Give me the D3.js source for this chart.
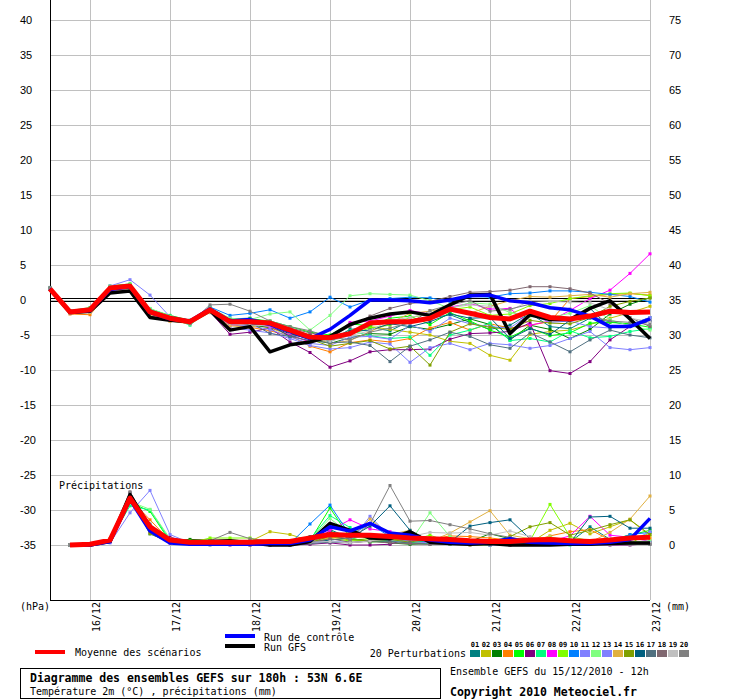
<!DOCTYPE html>
<html>
<head>
<meta charset="utf-8">
<script src="https://cdn.jsdelivr.net/npm/d3@7"></script>
<style>
  body { margin: 0; background: #fff; }
  svg { display: block; }
</style>
</head>
<body>
<div id="viz"></div>
<script>
// forecast steps, hours after 15/12/2010 12h
var steps = [0,6,12,18,24,30,36,42,48,54,60,66,72,78,84,90,96,102,108,114,120,126,132,138,144,150,156,162,168,174,180];
var rainSteps = [6,12,18,24,30,36,42,48,54,60,66,72,78,84,90,96,102,108,114,120,126,132,138,144,150,156,162,168,174,180];

var dayLabels = ["16/12","17/12","18/12","19/12","20/12","21/12","22/12","23/12"];
var tempTicks = [40,35,30,25,20,15,10,5,0,-5,-10,-15,-20,-25,-30,-35];
var rightTicks = [75,70,65,60,55,50,45,40,35,30,25,20,15,10,5,0];

var pertNames = ["01","02","03","04","05","06","07","08","09","10","11","12","13","14","15","16","17","18","19","20"];
var pertColors = ["#008080","#c0c000","#008000","#ff8000","#00ff00","#800080","#00ff80","#ff00ff","#80ff00","#0080ff",
                  "#8080ff","#80ff80","#8080ff","#e0b040","#80a000","#006080","#507080","#806870","#c0c0c0","#808080"];

// temperature 2m (°C)
var tempMean = [1.6,-1.7,-1.4,1.7,2.0,-1.7,-2.6,-3.1,-1.4,-3.1,-3.1,-3.3,-4.3,-5.3,-5.4,-4.8,-3.3,-3.1,-3.1,-2.6,-1.3,-1.9,-2.5,-2.7,-1.6,-2.5,-2.7,-2.3,-1.6,-1.8,-1.7];
var tempControl = [1.6,-1.7,-1.5,1.5,1.9,-1.8,-2.7,-3.0,-1.3,-3.0,-2.8,-3.5,-4.5,-5.5,-4.2,-2.2,0.0,0.0,-0.1,-0.4,0.0,0.6,0.7,-0.1,-0.4,-1.1,-1.4,-2.3,-3.8,-3.8,-2.7];
var tempGfs = [1.6,-1.8,-1.6,1.0,1.3,-2.5,-2.9,-3.1,-1.5,-4.3,-3.8,-7.4,-6.4,-6.0,-5.2,-3.5,-2.6,-2.0,-1.7,-2.2,-0.7,0.7,0.8,-4.8,-2.1,-2.8,-2.8,-1.2,-0.1,-2.7,-5.5];

var tempP01 = [1.7,-1.6,-1.3,1.9,2.1,-1.5,-2.4,-3.0,-1.2,-2.7,-2.6,-3.2,-4.5,-5.1,-5.8,-4.2,-3.9,-4.4,-3.0,-2.6,-2.1,-3.2,-4.2,-3.6,-1.9,-3.8,-4.1,-2.6,-3.1,-3.5,-2.5];
var tempP02 = [1.6,-1.8,-1.6,1.5,1.8,-1.9,-2.8,-3.2,-1.6,-3.4,-3.5,-4.0,-5.0,-6.0,-5.7,-4.6,-3.8,-4.2,-4.6,-5.0,-5.9,-6.2,-7.9,-8.6,-4.9,-4.5,-4.3,-3.5,-2.6,-1.8,-0.9];
var tempP03 = [1.6,-1.7,-1.5,1.6,1.9,-1.8,-2.7,-3.3,-1.5,-3.3,-3.6,-3.9,-4.8,-5.6,-6.2,-5.4,-4.8,-4.9,-3.8,-4.2,-3.5,-2.7,-3.5,-5.7,-3.6,-4.2,-5.5,-4.2,-2.0,-0.6,0.3];
var tempP04 = [1.5,-2.0,-2.1,1.2,1.7,-2.0,-3.0,-3.3,-1.7,-3.5,-3.9,-4.4,-5.1,-6.6,-7.4,-6.1,-5.7,-6.0,-5.5,-4.0,-3.2,-4.3,-3.4,-4.0,-3.6,-3.1,0.2,0.5,0.8,0.9,0.7];
var tempP05 = [1.7,-1.5,-1.1,2.0,2.3,-1.3,-2.2,-2.9,-1.1,-2.9,-2.7,-3.0,-3.8,-4.6,-5.0,-3.4,-3.7,-2.6,-2.3,-3.5,-1.8,-3.0,-4.3,-5.3,-4.0,-5.1,-4.7,-3.3,-3.2,-3.4,-3.9];
var tempP06 = [1.6,-1.6,-1.5,1.4,1.8,-1.9,-2.9,-3.3,-1.7,-4.9,-4.6,-4.0,-6.0,-7.5,-9.6,-8.7,-7.4,-7.1,-7.1,-7.0,-5.6,-4.8,-4.7,-4.5,-3.3,-10.1,-10.5,-8.8,-5.7,-3.8,-3.0];
var tempP07 = [1.6,-1.7,-1.3,1.8,2.2,-1.6,-2.5,-3.6,-1.3,-3.0,-3.3,-3.5,-4.2,-5.3,-5.9,-4.4,-5.1,-5.5,-5.3,-7.9,-5.0,-4.3,-3.3,-5.8,-5.5,-6.0,-4.4,-5.4,-5.2,-4.5,-4.1];
var tempP08 = [1.6,-1.8,-1.5,1.6,1.9,-1.7,-2.8,-3.3,-1.6,-3.6,-3.4,-3.8,-5.0,-6.0,-5.5,-3.2,-3.0,-2.3,-1.5,-2.0,-1.0,-0.5,-1.3,-1.2,-3.6,-3.0,-1.5,0.2,1.4,3.8,6.6];
var tempP09 = [1.6,-1.6,-1.2,1.9,2.1,-1.4,-2.4,-3.1,-1.3,-2.9,-3.0,-3.3,-4.1,-5.0,-5.6,-4.9,-4.0,-3.6,-2.5,-2.0,-1.4,-1.0,-2.2,-2.0,-0.8,-0.5,0.2,0.6,0.9,1.0,0.6];
var tempP10 = [1.7,-1.5,-1.2,1.7,2.1,-1.3,-2.3,-2.9,-1.0,-2.2,-1.9,-1.4,-2.6,-1.7,0.4,-1.0,0.0,0.2,0.4,0.3,-0.2,0.5,0.4,0.9,1.0,1.3,1.3,1.1,0.8,0.5,-0.3];
var tempP11 = [1.6,-1.7,-1.4,2.0,2.9,0.7,-2.4,-3.3,-1.8,-4.0,-4.3,-4.7,-5.5,-6.5,-7.0,-6.8,-6.0,-6.3,-8.9,-6.8,-6.2,-7.1,-6.2,-6.4,-6.9,-6.5,-5.5,-4.5,-6.8,-7.1,-6.8];
var tempP12 = [1.7,-1.5,-1.2,1.9,2.2,-1.2,-2.3,-3.4,-1.1,-2.6,-2.8,-2.0,-1.7,-4.3,-2.2,0.6,0.9,0.8,0.7,-0.1,-1.2,-0.4,-0.6,-1.8,-2.3,-2.5,-1.9,-0.8,-2.8,-3.7,-4.3];
var tempP13 = [1.6,-1.6,-1.5,1.4,1.7,-2.0,-2.9,-3.4,-1.6,-3.5,-3.7,-4.2,-5.3,-6.2,-6.5,-5.3,-5.2,-5.6,-3.6,-4.5,-2.6,-3.4,-3.8,-4.0,-2.0,-3.2,-3.0,-3.8,-4.0,-3.5,-2.5];
var tempP14 = [1.6,-1.9,-1.8,1.3,1.6,-2.2,-3.0,-3.4,-1.8,-3.7,-3.9,-3.4,-4.6,-5.2,-6.2,-5.8,-4.5,-3.3,-1.9,-1.6,-1.1,-1.9,-0.9,-0.1,0.5,0.4,0.6,0.8,0.4,0.9,1.1];
var tempP15 = [1.6,-1.7,-1.3,1.6,2.0,-1.6,-2.6,-3.0,-1.4,-3.1,-3.2,-3.6,-4.4,-5.6,-6.6,-6.2,-5.8,-7.0,-6.6,-9.3,-4.6,-3.4,-3.9,-4.2,-2.9,-3.3,-3.4,-2.5,-0.9,-0.2,0.3];
var tempP16 = [1.6,-1.8,-1.6,1.7,2.0,-1.8,-2.7,-3.2,-1.6,-3.3,-3.5,-3.6,-5.2,-5.0,-6.0,-4.5,-4.3,-3.4,-3.8,-3.1,-2.0,-2.6,-2.5,-5.5,-4.1,-4.9,-2.9,-1.2,-3.9,-3.7,-3.0];
var tempP17 = [1.5,-1.7,-1.6,1.4,1.8,-1.9,-2.8,-3.3,-1.5,-3.3,-3.2,-4.8,-5.2,-5.8,-6.1,-6.0,-6.5,-8.8,-6.6,-5.7,-4.6,-5.2,-6.4,-6.9,-4.7,-6.0,-7.4,-5.7,-4.3,-5.0,-5.4];
var tempP18 = [1.6,-1.6,-1.3,1.8,2.0,-1.5,-2.5,-3.0,-1.2,-2.8,-2.9,-3.1,-4.0,-4.7,-5.2,-3.8,-2.3,-1.2,-0.5,-0.2,0.5,1.1,1.2,1.4,1.9,1.9,1.6,1.0,-0.5,-2.5,-3.8];
var tempP19 = [1.6,-1.9,-1.7,1.5,1.8,-1.8,-2.7,-3.2,-1.5,-3.4,-3.6,-3.7,-4.6,-5.4,-5.9,-5.1,-4.4,-2.9,-2.5,-1.9,-1.1,-0.7,-0.9,-1.5,-0.1,-0.2,-0.3,-0.4,-1.4,-2.6,-3.1];
var tempP20 = [1.8,-1.6,-1.4,1.6,1.9,-1.6,-2.6,-3.3,-0.7,-0.6,-1.6,-3.0,-3.8,-4.4,-5.3,-5.7,-4.6,-4.0,-3.3,-1.5,-0.7,-0.1,-1.6,-1.3,-0.6,-1.1,-1.3,-2.3,-3.0,-3.2,-3.5];

// 6h precipitation (mm)
var rainMean = [0.0,0.1,0.7,6.7,2.6,0.7,0.4,0.4,0.4,0.4,0.5,0.5,1.0,1.5,1.4,1.4,1.2,1.0,0.9,0.8,0.6,0.5,0.5,0.7,0.8,0.6,0.5,0.7,1.0,1.1];
var rainControl = [0.0,0.0,0.5,6.5,2.0,0.3,0.1,0.1,0.1,0.1,0.2,0.2,0.7,2.6,2.0,3.1,1.7,1.4,0.7,0.4,0.3,0.4,0.9,0.4,0.3,0.2,0.2,0.4,0.8,3.8];
var rainGfs = [0.0,0.0,0.5,7.2,2.5,0.6,0.2,0.5,0.6,0.3,0.0,0.0,0.5,3.1,2.1,1.0,0.9,1.9,0.4,0.2,0.1,0.2,0.0,0.0,0.0,0.1,0.1,0.2,0.3,0.3];

var rainP01 = [0,0,0.6,7.0,1.6,0.4,0.2,0.1,0.1,0.1,0.3,0.3,1.2,2.2,1.0,1.4,0.9,0.6,0.4,0.3,0.5,0.7,0.4,0.3,0.2,0.4,2.6,0.8,0.4,0.3];
var rainP02 = [0,0.1,0.8,6.4,1.8,0.4,0.3,0.2,0.4,0.5,1.9,1.5,0.6,1.2,0.7,0.9,0.8,0.5,0.2,0.1,0.0,0.0,0.4,0.3,2.1,3.1,1.6,2.6,3.6,1.3];
var rainP03 = [0,0.1,0.5,6.8,2.6,0.6,0.8,0.7,0.3,0.2,0.2,0.1,0.4,2.0,0.9,0.6,0.3,0.1,0.2,0.3,0.5,1.6,0.9,0.8,0.2,0.1,0.6,0.3,0.2,0.4];
var rainP04 = [0,0.1,0.9,6.6,3.6,0.6,0.2,0.1,0.1,0.4,0.3,0.2,0.8,1.0,1.7,1.2,1.6,0.4,0.8,1.3,1.2,1.0,0.7,0.4,1.3,1.9,2.2,0.7,1.4,0.9];
var rainP05 = [0,0,0.6,6.1,4.8,0.5,0.6,0.6,0.7,0.6,0.5,0.4,0.6,5.3,1.0,0.4,0.6,0.3,0.7,0.4,0.2,0.1,0.3,0.9,0.7,0.3,0.2,0.8,1.4,2.1];
var rainP06 = [0,0,0.6,7.4,2.2,1.1,0.5,0.2,0.0,0.0,0.0,0.0,0.1,0.3,0.0,0.0,0.1,1.0,0.4,0.3,0.2,0.1,0.0,0.2,0.4,0.3,0.1,0.0,0.0,0.2];
var rainP07 = [0,0,0.7,5.6,5.0,0.7,0.2,0.1,0.2,0.1,0.1,0.1,0.9,4.2,2.5,1.0,0.6,0.3,0.2,0.1,0.1,0.0,0.3,0.2,0.1,0.0,0.2,0.1,0.3,0.4];
var rainP08 = [0,0,0.4,7.1,1.9,0.3,0.1,0.1,0.2,0.3,0.2,0.3,0.5,2.1,3.6,2.3,1.9,0.9,0.5,0.3,0.2,0.4,0.3,0.2,0.5,1.3,4.1,1.4,1.1,0.5];
var rainP09 = [0,0,0.5,6.9,2.0,0.5,0.3,1.0,1.0,1.0,0.3,0.2,0.5,0.9,0.6,0.7,0.9,0.6,1.4,0.4,0.2,0.3,0.2,0.6,5.8,1.2,0.6,0.3,0.2,1.8];
var rainP10 = [0,0,0.6,6.2,2.7,0.4,0.2,0.2,0.3,0.4,0.4,0.2,3.0,5.7,1.4,3.0,1.2,0.7,0.5,0.6,0.3,0.2,0.1,0.2,0.4,0.2,0.3,0.5,1.5,1.8];
var rainP11 = [0,0,0.3,4.6,7.8,1.5,0.3,0.2,0.2,0.1,0.1,0.1,0.3,0.5,0.4,4.1,1.2,0.5,0.3,0.2,0.3,0.0,0.1,0.4,0.6,0.8,0.3,0.6,0.5,1.9];
var rainP12 = [0,0,0.6,6.2,5.1,0.9,0.4,0.2,0.1,0.2,0.3,0.2,0.8,3.8,1.5,0.8,0.7,0.4,4.6,1.2,0.6,0.3,0.4,0.5,1.2,0.4,0.3,0.2,0.4,0.6];
var rainP13 = [0,0.1,0.4,6.3,2.2,0.5,0.3,0.2,0.1,0.2,0.6,0.4,0.7,1.6,1.1,1.5,0.6,0.5,0.9,0.5,0.2,0.0,0.1,0.3,0.5,0.4,0.6,0.4,0.2,0.3];
var rainP14 = [0,0,0.5,6.6,2.2,0.6,0.2,0.1,0.4,0.2,0.6,0.3,0.6,0.8,1.0,3.7,1.5,2.1,0.5,1.7,3.3,4.9,1.4,0.9,1.1,0.7,0.4,1.8,3.7,7.0];
var rainP15 = [0,0,0.7,7.0,1.6,0.4,0.3,0.2,0.2,0.1,0.2,0.4,0.3,1.3,0.8,0.6,0.8,0.4,1.0,0.5,0.4,0.3,1.2,2.6,3.2,1.4,2.1,2.9,3.6,1.5];
var rainP16 = [0,0,0.5,6.8,2.4,0.6,0.2,0.1,0.2,0.3,0.3,0.6,0.4,0.7,1.0,2.7,5.6,2.1,0.5,0.4,2.7,3.2,3.6,0.9,0.4,0.3,4.0,4.1,2.4,2.4];
var rainP17 = [0,0,0.6,7.3,3.0,0.3,0.1,0.0,0.1,0.1,0.0,0.0,0.2,0.4,0.3,0.6,0.5,0.3,0.1,0.2,0.2,0.1,0.1,0.1,0.2,0.1,0.1,0.3,0.2,0.1];
var rainP18 = [0,0,0.5,7.6,2.5,0.5,0.2,0.1,0.1,0.0,0.1,0.1,0.3,0.9,0.4,0.5,0.3,0.2,0.1,0.1,0.0,0.1,0.0,0.1,0.2,0.1,0.2,0.1,0.4,0.2];
var rainP19 = [0,0,0.6,7.0,2.3,0.4,0.3,0.2,0.2,0.1,0.1,0.1,0.4,0.5,0.3,0.6,0.9,1.2,1.8,1.7,1.8,1.4,2.0,1.2,0.5,0.3,0.2,0.1,0.1,0.2];
var rainP20 = [0,0,0.6,7.5,2.7,0.6,0.4,0.6,1.8,0.9,0.6,0.3,0.5,1.4,0.8,3.0,8.5,3.4,3.5,2.9,2.3,1.6,1.1,0.6,0.4,0.3,0.2,0.1,0.1,0.1];

var tempPerts = [tempP01,tempP02,tempP03,tempP04,tempP05,tempP06,tempP07,tempP08,tempP09,tempP10,
                 tempP11,tempP12,tempP13,tempP14,tempP15,tempP16,tempP17,tempP18,tempP19,tempP20];
var rainPerts = [rainP01,rainP02,rainP03,rainP04,rainP05,rainP06,rainP07,rainP08,rainP09,rainP10,
                 rainP11,rainP12,rainP13,rainP14,rainP15,rainP16,rainP17,rainP18,rainP19,rainP20];

var W = 740, H = 700;
var mono = "'DejaVu Sans Mono', monospace";
var sans = "'Liberation Sans', Arial, sans-serif";

var svg = d3.select("#viz").append("svg")
  .attr("width", W).attr("height", H)
  .attr("viewBox", `0 0 ${W} ${H}`);

var t0 = Date.UTC(2010, 11, 15, 12);
function hourToDate(h) { return new Date(t0 + h * 3600e3); }

var x = d3.scaleUtc()
  .domain([hourToDate(0), hourToDate(180)])
  .range([50, 650]);
var y = d3.scaleLinear().domain([0, 40]).range([300, 20]);      // °C
var yRight = d3.scaleLinear().domain([35, 75]).range([300, 20]); // right labels
var yRain = d3.scaleLinear().domain([0, 10]).range([545, 475]);  // mm

var days = d3.utcDay.range(hourToDate(1), hourToDate(181));

// grid
svg.append("g")
  .attr("transform", "translate(50,0)")
  .call(d3.axisLeft(y).tickValues(tempTicks).tickSize(-600).tickFormat(""))
  .call(g => g.select(".domain").remove())
  .selectAll("line").attr("stroke", "#c0c0c0").attr("shape-rendering", "crispEdges");

svg.append("g")
  .selectAll("line")
  .data(days)
  .enter().append("line")
  .attr("x1", d => x(d)).attr("x2", d => x(d))
  .attr("y1", 0).attr("y2", 600)
  .attr("stroke", "#c0c0c0")
  .attr("shape-rendering", "crispEdges");

// zero line
[-1.5, 1.5].forEach(function(off) {
  svg.append("line")
    .attr("x1", 50).attr("x2", 650)
    .attr("y1", y(0) + off).attr("y2", y(0) + off)
    .attr("stroke", "#000").attr("stroke-width", 1);
});

// frame: left and bottom
svg.append("line").attr("x1", 50.5).attr("x2", 50.5).attr("y1", 0).attr("y2", 600.5).attr("stroke", "#000");
svg.append("line").attr("x1", 50).attr("x2", 650).attr("y1", 600.5).attr("y2", 600.5).attr("stroke", "#000");

// left tick labels
svg.append("g")
  .attr("font-family", sans).attr("font-size", 11)
  .selectAll("text")
  .data(tempTicks)
  .enter().append("text")
  .attr("x", 20)
  .attr("y", d => y(d) + 4)
  .text(d => d);

// right tick labels
svg.append("g")
  .attr("font-family", sans).attr("font-size", 11)
  .selectAll("text")
  .data(rightTicks)
  .enter().append("text")
  .attr("x", 669)
  .attr("y", d => yRight(d) + 4)
  .text(d => d);

// date labels
svg.append("g")
  .attr("font-family", mono).attr("font-size", 10)
  .selectAll("text")
  .data(days)
  .enter().append("text")
  .attr("transform", d => `translate(${x(d) + 10},602) rotate(-90)`)
  .attr("text-anchor", "end")
  .text((d, i) => dayLabels[i]);

svg.append("text").attr("x", 20).attr("y", 610)
  .attr("font-family", mono).attr("font-size", 10).text("(hPa)");
svg.append("text").attr("x", 666).attr("y", 610)
  .attr("font-family", mono).attr("font-size", 10).text("(mm)");

svg.append("text").attr("x", 59).attr("y", 489)
  .attr("font-family", mono).attr("font-size", 10).text("Précipitations");

// series
var tempLine = d3.line()
  .x((d, i) => x(hourToDate(steps[i])))
  .y(d => y(d));
var rainLine = d3.line()
  .x((d, i) => x(hourToDate(rainSteps[i])))
  .y(d => yRain(d));

var plot = svg.append("g");

function drawPert(vals, color, hours, scaleY, lineGen) {
  plot.append("path").datum(vals)
    .attr("fill", "none").attr("stroke", color).attr("stroke-width", 1)
    .attr("d", lineGen);
  plot.append("g").selectAll("rect")
    .data(vals).enter().append("rect")
    .attr("x", (d, i) => x(hourToDate(hours[i])) - 1.5)
    .attr("y", d => scaleY(d) - 1.5)
    .attr("width", 3).attr("height", 3)
    .attr("fill", color);
}

tempPerts.forEach(function(vals, k) { drawPert(vals, pertColors[k], steps, y, tempLine); });
rainPerts.forEach(function(vals, k) { drawPert(vals, pertColors[k], rainSteps, yRain, rainLine); });

function drawThick(vals, color, w, lineGen) {
  plot.append("path").datum(vals)
    .attr("fill", "none").attr("stroke", color).attr("stroke-width", w)
    .attr("stroke-linejoin", "round")
    .attr("d", lineGen);
}
drawThick(tempGfs, "#000", 3.5, tempLine);
drawThick(rainGfs, "#000", 3.5, rainLine);
drawThick(tempControl, "#0000ff", 3.5, tempLine);
drawThick(rainControl, "#0000ff", 3.5, rainLine);
drawThick(tempMean, "#ff0000", 5, tempLine);
drawThick(rainMean, "#ff0000", 5, rainLine);

// legend
svg.append("rect").attr("x", 35).attr("y", 650).attr("width", 30).attr("height", 4).attr("fill", "#ff0000");
svg.append("text").attr("x", 75).attr("y", 656)
  .attr("font-family", mono).attr("font-size", 10).text("Moyenne des scénarios");

svg.append("rect").attr("x", 225).attr("y", 634).attr("width", 30).attr("height", 4).attr("fill", "#0000ff");
svg.append("text").attr("x", 264).attr("y", 641)
  .attr("font-family", mono).attr("font-size", 10).text("Run de contrôle");
svg.append("rect").attr("x", 225).attr("y", 644).attr("width", 30).attr("height", 4).attr("fill", "#000");
svg.append("text").attr("x", 264).attr("y", 651)
  .attr("font-family", mono).attr("font-size", 10).text("Run GFS");

svg.append("text").attr("x", 466).attr("y", 657).attr("text-anchor", "end")
  .attr("font-family", mono).attr("font-size", 10).text("20 Perturbations");

var sw = svg.append("g");
sw.selectAll("rect")
  .data(pertColors).enter().append("rect")
  .attr("x", (d, i) => 470 + i * 11)
  .attr("y", 650).attr("width", 10).attr("height", 7)
  .attr("fill", d => d);
sw.selectAll("text")
  .data(pertNames).enter().append("text")
  .attr("x", (d, i) => 475 + i * 11)
  .attr("y", 647)
  .attr("text-anchor", "middle")
  .attr("font-family", mono).attr("font-size", 7).attr("font-weight", "bold")
  .text(d => d);

// caption box
svg.append("rect").attr("x", 20.5).attr("y", 668.5).attr("width", 420).attr("height", 30)
  .attr("fill", "none").attr("stroke", "#000");
svg.append("text").attr("x", 30).attr("y", 682)
  .attr("font-family", mono).attr("font-size", 11.5).attr("font-weight", "bold")
  .text("Diagramme des ensembles GEFS sur 180h : 53N 6.6E");
svg.append("text").attr("x", 30).attr("y", 695)
  .attr("font-family", mono).attr("font-size", 10)
  .text("Température 2m (°C) , précipitations (mm)");

svg.append("text").attr("x", 450).attr("y", 675)
  .attr("font-family", mono).attr("font-size", 10)
  .text("Ensemble GEFS du 15/12/2010 - 12h");
svg.append("text").attr("x", 450).attr("y", 696)
  .attr("font-family", mono).attr("font-size", 11.5).attr("font-weight", "bold")
  .text("Copyright 2010 Meteociel.fr");
</script>
</body>
</html>
